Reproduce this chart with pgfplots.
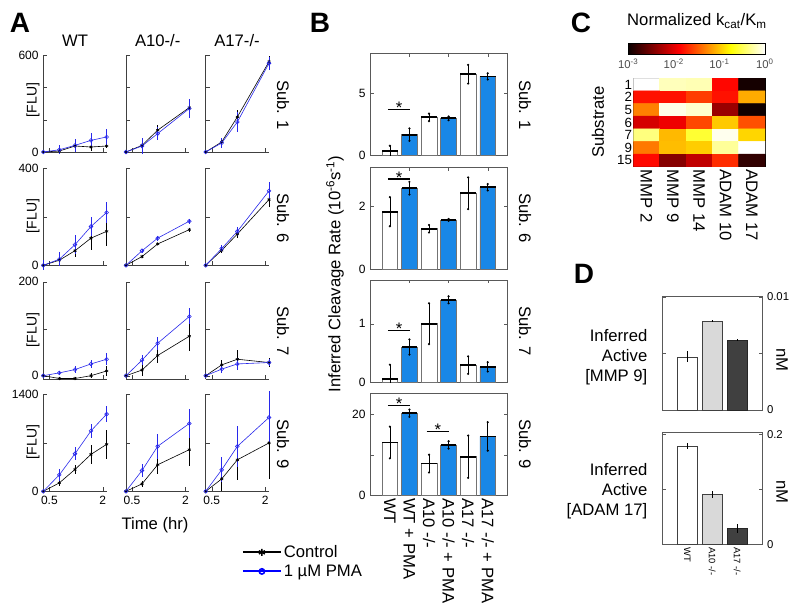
\documentclass[border=0pt]{standalone}
\usepackage{pgfplots}
\pgfplotsset{compat=1.18}
\usepackage{fontspec}
\setmainfont{Liberation Sans}
\definecolor{blueA}{RGB}{40,40,235}
\definecolor{blueB}{RGB}{25,135,230}
\newcommand{\fA}{\fontsize{12.5}{15}\selectfont}
\newcommand{\fT}{\fontsize{9}{10}\selectfont}
\newcommand{\fL}{\fontsize{21}{24}\selectfont\bfseries}
\pgfplotsset{
  /pgf/number format/assume math mode=true,
  Aax/.style={scale only axis, width=47.5pt, height=72.75pt, anchor=north west,
    axis lines=left, axis line style={black!75,-}, tick style={black!75}, tick align=inside,
    major tick length=3pt, xmin=0.33, xmax=2.11, xtick={0.5,2}, xticklabels={},
    ticklabel style={font=\fT}, clip=false, yticklabels={}},
  ctrl/.style={black, line width=0.45pt, mark=asterisk, mark size=1.3pt, mark options={solid},
    error bars/.cd, y dir=both, y explicit, error mark=none},
  pma/.style={blueA, line width=0.45pt, mark=o, mark size=1.4pt, mark options={solid},
    error bars/.cd, y dir=both, y explicit, error mark=none},
  Bax/.style={scale only axis, width=102.75pt, height=76.5pt, anchor=north west,
    xmin=0, xmax=7, ymin=0, axis line style={black!65}, tick style={black!65}, tick align=inside,
    major tick length=2.5pt, xtick={2,4,6}, xticklabels={}, ticklabel style={font=\fT}},
  wbar/.style={ybar, bar shift=0pt, bar width=0.8, fill=white, draw=black!55},
  bbar/.style={ybar, bar shift=0pt, bar width=0.8, fill=blueB, draw=black!55},
  nomark/.style={only marks, mark size=0pt, mark options={draw=none, fill=none}},
  meanl/.style={nomark, error bars/.cd, x dir=both, x fixed=0.4, error mark=none,
    error bar style={draw=black, solid, line width=1.3pt}},
  whisk/.style={nomark, error bars/.cd, y dir=both, y explicit, error mark=*,
    error mark options={mark size=0.6pt, draw=black, fill=black}, error bar style={draw=black, solid, line width=0.5pt}},
  dwhisk/.style={nomark, error bars/.cd, y dir=both, y explicit, error mark=none,
    error bar style={draw=black, solid, line width=0.5pt}},
  sig/.style={black, line width=0.8pt, mark=none},
  Dax/.style={scale only axis, width=75pt, anchor=north west, xmin=0, xmax=4, ymin=0,
    axis line style={black!65}, tick style={black!65}, tick align=inside, major tick length=2.5pt,
    xtick=\empty, yticklabel pos=right, scaled y ticks=false, ticklabel style={font=\fontsize{8.5}{10}\selectfont}},
}
\begin{document}
\begin{tikzpicture}[x=0.75pt,y=-0.75pt]
\path[use as bounding box] (0,0) rectangle (800,614);
% ================= Panel A =================
% Row 1 (Sub. 1)
\begin{axis}[Aax, at={(32.475pt,-41.25pt)}, ymin=0, ymax=600, ytick={0,200,400,600}, yticklabels={0,,,600}]
\addplot[ctrl] coordinates {(0.33,0)+-(0,0) (0.78,6)+-(0,10) (1.22,37)+-(0,34) (1.67,31)+-(0,22) (2.11,37)+-(0,10)};
\addplot[pma] coordinates {(0.33,0)+-(0,10) (0.78,14)+-(0,28) (1.22,41)+-(0,41) (1.67,72)+-(0,43) (2.11,93)+-(0,52)};
\end{axis}
\begin{axis}[Aax, at={(94.5pt,-41.25pt)}, ymin=0, ymax=600, ytick={0,200,400,600}]
\addplot[ctrl] coordinates {(0.33,0)+-(0,0) (0.78,41)+-(0,30) (1.22,135)+-(0,30) (2.11,275)+-(0,45)};
\addplot[pma] coordinates {(0.33,0)+-(0,0) (0.78,37)+-(0,50) (1.22,114)+-(0,40) (2.11,269)+-(0,57)};
\end{axis}
\begin{axis}[Aax, at={(154.275pt,-41.25pt)}, ymin=0, ymax=600, ytick={0,200,400,600}]
\addplot[ctrl] coordinates {(0.33,0)+-(0,0) (0.78,62)+-(0,20) (1.22,217)+-(0,40) (2.11,559)+-(0,35)};
\addplot[pma] coordinates {(0.33,0)+-(0,0) (0.78,56)+-(0,31) (1.22,186)+-(0,62) (2.11,549)+-(0,40)};
\end{axis}
% Row 2 (Sub. 6)
\begin{axis}[Aax, at={(32.475pt,-126.225pt)}, ymin=0, ymax=400, ytick={0,200,400}, yticklabels={0,,400}]
\addplot[ctrl] coordinates {(0.33,0)+-(0,0) (0.78,21)+-(0,15) (1.22,60)+-(0,25) (1.67,112)+-(0,48) (2.11,140)+-(0,60)};
\addplot[pma] coordinates {(0.33,0)+-(0,20) (0.78,25)+-(0,28) (1.22,85)+-(0,38) (1.67,160)+-(0,40) (2.11,218)+-(0,44)};
\end{axis}
\begin{axis}[Aax, at={(94.5pt,-126.225pt)}, ymin=0, ymax=400, ytick={0,200,400}]
\addplot[ctrl] coordinates {(0.33,0)+-(0,0) (0.78,36)+-(0,5) (1.22,88)+-(0,6) (2.11,147)+-(0,8)};
\addplot[pma] coordinates {(0.33,0)+-(0,0) (0.78,60)+-(0,8) (1.22,112)+-(0,10) (2.11,182)+-(0,10)};
\end{axis}
\begin{axis}[Aax, at={(154.275pt,-126.225pt)}, ymin=0, ymax=400, ytick={0,200,400}]
\addplot[ctrl] coordinates {(0.33,0)+-(0,0) (0.78,62)+-(0,10) (1.22,129)+-(0,15) (2.11,271)+-(0,30)};
\addplot[pma] coordinates {(0.33,0)+-(0,0) (0.78,69)+-(0,15) (1.22,140)+-(0,20) (2.11,307)+-(0,38)};
\end{axis}
% Row 3 (Sub. 7)
\begin{axis}[Aax, at={(32.475pt,-211.275pt)}, height=73.2pt, ymin=-7.7, ymax=200, ytick={0,100,200}, yticklabels={0,,200}]
\addplot[ctrl] coordinates {(0.33,0)+-(0,0) (0.78,-6)+-(0,4) (1.22,-6)+-(0,4) (1.67,0)+-(0,5) (2.11,10)+-(0,10)};
\addplot[pma] coordinates {(0.33,0)+-(0,0) (0.78,6)+-(0,5) (1.22,13)+-(0,8) (1.67,25)+-(0,9) (2.11,35)+-(0,13)};
\end{axis}
\begin{axis}[Aax, at={(94.5pt,-211.275pt)}, height=73.2pt, ymin=-7.7, ymax=200, ytick={0,100,200}]
\addplot[ctrl] coordinates {(0.33,0)+-(0,0) (0.78,12)+-(0,12) (1.22,43)+-(0,15) (2.11,84)+-(0,31)};
\addplot[pma] coordinates {(0.33,0)+-(0,0) (0.78,33)+-(0,11) (1.22,69)+-(0,14) (2.11,126)+-(0,17)};
\end{axis}
\begin{axis}[Aax, at={(154.275pt,-211.275pt)}, height=73.2pt, ymin=-7.7, ymax=200, ytick={0,100,200}]
\addplot[ctrl] coordinates {(0.33,0)+-(0,0) (0.78,23)+-(0,11) (1.22,35)+-(0,20) (2.11,28)+-(0,10)};
\addplot[pma] coordinates {(0.33,0)+-(0,0) (0.78,14)+-(0,8) (1.22,25)+-(0,12) (2.11,28)+-(0,8)};
\end{axis}
% Row 4 (Sub. 9)
\begin{axis}[Aax, at={(32.475pt,-295.725pt)}, ymin=0, ymax=1400, ytick={0,700,1400}, yticklabels={0,,1400}, xticklabels={0.5,2}]
\addplot[ctrl] coordinates {(0.33,0)+-(0,0) (0.78,121)+-(0,40) (1.22,315)+-(0,60) (1.67,533)+-(0,133) (2.11,678)+-(0,206)};
\addplot[pma] coordinates {(0.33,0)+-(0,0) (0.78,237)+-(0,90) (1.22,542)+-(0,92) (1.67,872)+-(0,97) (2.11,1114)+-(0,116)};
\end{axis}
\begin{axis}[Aax, at={(94.5pt,-295.725pt)}, ymin=0, ymax=1400, ytick={0,700,1400}, xticklabels={0.5,2}]
\addplot[ctrl] coordinates {(0.33,0)+-(0,0) (0.78,107)+-(0,40) (1.22,383)+-(0,130) (2.11,601)+-(0,230)};
\addplot[pma] coordinates {(0.33,0)+-(0,0) (0.78,300)+-(0,97) (1.22,649)+-(0,177) (2.11,979)+-(0,213)};
\end{axis}
\begin{axis}[Aax, at={(154.275pt,-295.725pt)}, ymin=0, ymax=1400, ytick={0,700,1400}, xticklabels={0.5,2}]
\addplot[ctrl] coordinates {(0.33,0)+-(0,0) (0.78,179)+-(0,180) (1.22,455)+-(0,290) (2.11,698)+-(0,520)};
\addplot[pma] coordinates {(0.33,0)+-(0,0) (0.78,310)+-(0,180) (1.22,649)+-(0,300) (2.11,1066)+-(0,375)};
\end{axis}
% legend
\begin{axis}[at={(181.275pt,-407.25pt)}, anchor=north west, hide axis, scale only axis, width=10pt, height=10pt,
  xmin=0, xmax=1, ymin=0, ymax=1,
  legend style={at={(0,1)}, anchor=north west, draw=none, fill=none, font=\fA, inner sep=0pt, row sep=1pt,
    nodes={inner sep=1.5pt}},
  legend cell align=left,
  legend image code/.code={\draw[mark repeat=2, mark phase=2, #1] plot coordinates {(0pt,0pt) (14.25pt,0pt) (28.5pt,0pt)};}]
\addlegendimage{black, line width=1.4pt, mark=asterisk, mark size=2.6pt, mark options={line width=1pt}}
\addlegendentry{Control}
\addlegendimage{blue, line width=1.4pt, mark=o, mark size=2pt, mark options={line width=1.2pt}}
\addlegendentry{1 µM PMA}
\end{axis}
% Panel A texts
\node[font=\fL] at (20,23) {A};
\node[font=\fA] at (75,41) {WT};
\node[font=\fA] at (157.7,41) {A10-/-};
\node[font=\fA] at (237,41) {A17-/-};
\node[font=\fontsize{10.5}{12}\selectfont, rotate=90] at (33,100) {[FLU]};
\node[font=\fontsize{10.5}{12}\selectfont, rotate=90] at (33,216) {[FLU]};
\node[font=\fontsize{10.5}{12}\selectfont, rotate=90] at (33,330) {[FLU]};
\node[font=\fontsize{10.5}{12}\selectfont, rotate=90] at (33,442) {[FLU]};
\node[font=\fA, rotate=-90] at (283,105) {Sub. 1};
\node[font=\fA, rotate=-90] at (283,218) {Sub. 6};
\node[font=\fA, rotate=-90] at (283,331) {Sub. 7};
\node[font=\fA, rotate=-90] at (283,444) {Sub. 9};
\node[font=\fA] at (155,525.5) {Time (hr)};
% ================= Panel B =================
\begin{axis}[Bax, at={(277.725pt,-39.975pt)}, ymax=8.2, ytick={0,5}]
\addplot[wbar] coordinates {(1,0.32) (3,3.05) (5,6.52)};
\addplot[bbar] coordinates {(2,1.66) (4,2.97) (6,6.34)};
\addplot[meanl] coordinates {(1,0.32) (2,1.66) (3,3.05) (4,2.97) (5,6.52) (6,6.34)};
\addplot[whisk] coordinates {(1,0.32)+-(0,0.45) (2,1.66)+-(0,0.5) (3,3.05)+-(0,0.3) (4,2.97)+-(0,0.15) (5,6.52)+-(0,0.75) (6,6.34)+-(0,0.25)};
\addplot[sig] coordinates {(0.9,3.66) (2.05,3.66)};
\node[font=\fA, anchor=base, yshift=-3pt] at (axis cs:1.47,3.66) {*};
\end{axis}
\begin{axis}[Bax, at={(277.725pt,-125.475pt)}, ymax=3.22, ytick={0,2}]
\addplot[wbar] coordinates {(1,1.82) (3,1.28) (5,2.4)};
\addplot[bbar] coordinates {(2,2.56) (4,1.56) (6,2.59)};
\addplot[meanl] coordinates {(1,1.82) (2,2.56) (3,1.28) (4,1.56) (5,2.4) (6,2.59)};
\addplot[whisk] coordinates {(1,1.82)+-(0,0.46) (2,2.56)+-(0,0.2) (3,1.28)+-(0,0.12) (4,1.56)+-(0,0.03) (5,2.4)+-(0,0.5) (6,2.59)+-(0,0.1)};
\addplot[sig] coordinates {(0.9,2.85) (2.05,2.85)};
\node[font=\fA, anchor=base, yshift=-3pt] at (axis cs:1.47,2.85) {*};
\end{axis}
\begin{axis}[Bax, at={(277.725pt,-210pt)}, ymax=1.75, ytick={0,1}]
\addplot[wbar] coordinates {(1,0.057) (3,1.0) (5,0.29)};
\addplot[bbar] coordinates {(2,0.6) (4,1.41) (6,0.26)};
\addplot[meanl] coordinates {(1,0.057) (2,0.6) (3,1.0) (4,1.41) (5,0.29) (6,0.26)};
\addplot[whisk] coordinates {(1,0.057)+-(0,0.24) (2,0.6)+-(0,0.13) (3,1.0)+-(0,0.35) (4,1.41)+-(0,0.06) (5,0.29)+-(0,0.15) (6,0.26)+-(0,0.08)};
\addplot[sig] coordinates {(0.9,0.88) (2.05,0.88)};
\node[font=\fA, anchor=base, yshift=-3pt] at (axis cs:1.47,0.88) {*};
\end{axis}
\begin{axis}[Bax, at={(277.725pt,-294.975pt)}, ymax=25.1, ytick={0,10,20}, yticklabels={0,,20},
  xtick={1,2,3,4,5,6}, xtick style={draw=none},
  xticklabels={WT, WT + PMA, A10 -/-, A10 -/- + PMA, A17 -/-, A17 -/- + PMA},
  xticklabel style={rotate=-90, anchor=west, font=\fA, inner sep=2pt}]
\addplot[wbar] coordinates {(1,13.0) (3,7.8) (5,9.5)};
\addplot[bbar] coordinates {(2,20.2) (4,12.4) (6,14.5)};
\addplot[meanl] coordinates {(1,13.0) (2,20.2) (3,7.8) (4,12.4) (5,9.5) (6,14.5)};
\addplot[whisk] coordinates {(1,13.0)+-(0,3.9) (2,20.2)+-(0,0.9) (3,7.8)+-(0,2.2) (4,12.4)+-(0,0.9) (5,9.5)+-(0,5.2) (6,14.5)+-(0,3.5)};
\addplot[sig] coordinates {(0.9,22.2) (2.05,22.2)};
\node[font=\fA, anchor=base, yshift=-3pt] at (axis cs:1.47,22.2) {*};
\addplot[sig] coordinates {(2.88,15.6) (4.02,15.6)};
\node[font=\fA, anchor=base, yshift=-3pt] at (axis cs:3.45,15.6) {*};
\end{axis}
\node[font=\fL] at (320,23) {B};
\node[font=\fA, rotate=90] at (335,274) {Inferred Cleavage Rate (10\textsuperscript{-6}s\textsuperscript{-1})};
\node[font=\fA, rotate=-90] at (525,105) {Sub. 1};
\node[font=\fA, rotate=-90] at (525,218) {Sub. 6};
\node[font=\fA, rotate=-90] at (525,331) {Sub. 7};
\node[font=\fA, rotate=-90] at (525,444) {Sub. 9};
% ================= Panel C =================
\begin{axis}[scale only axis, width=98.8pt, height=66.3pt, at={(474.975pt,-58.725pt)}, anchor=north west,
  xmin=-0.5, xmax=4.5, ymin=-0.5, ymax=6.5, y dir=reverse,
  colormap={mhot}{rgb(0cm)=(0.04,0,0); rgb(3cm)=(1,0,0); rgb(6cm)=(1,1,0); rgb(8cm)=(1,1,1)},
  point meta min=-3, point meta max=0,
  xtick={0,1,2,3,4}, xticklabels={MMP 2, MMP 9, MMP 14, ADAM 10, ADAM 17},
  xticklabel style={rotate=-90, anchor=west, font=\fA, inner sep=2pt},
  ytick={0,1,2,3,4,5,6}, yticklabels={1,2,5,6,7,9,15},
  yticklabel style={font=\fontsize{10}{10}\selectfont, inner sep=0.8pt},
  major tick length=0pt, axis line style={black},
  colorbar horizontal,
  colorbar style={scale only axis, at={(parent axis.north west)}, anchor=south west, xshift=-3.75pt, yshift=26.25pt,
    width=102.5pt, height=8.7pt, xtick={-3,-2,-1,0},
    xticklabels={10\textsuperscript{-3}, 10\textsuperscript{-2}, 10\textsuperscript{-1}, 10\textsuperscript{0}},
    xticklabel style={font=\fontsize{8.5}{10}\selectfont, text=black!70}, major tick length=0pt, axis line style={black}}]
\addplot[matrix plot*, mesh/cols=5, point meta=explicit] table[meta=c] {
x y c
0 0 0
1 0 -0.2
2 0 -0.22
3 0 -1.85
4 0 -2.95
0 1 -1.8
1 1 -1.8
2 1 -1.61
3 1 -1.8
4 1 -1.12
0 2 -1.31
1 2 -0.07
2 2 -0.15
3 2 -2.34
4 2 -2.98
0 3 -2.07
1 3 -1.95
2 3 -1.56
3 3 -0.99
4 3 -1.52
0 4 -0.38
1 4 -1.06
2 4 -0.6
3 4 -0.05
4 4 -0.93
0 5 -1.34
1 5 -1.04
2 5 -0.97
3 5 -0.3
4 5 0
0 6 -1.84
1 6 -2.43
2 6 -2.16
3 6 -1.68
4 6 -2.82
};
\end{axis}
\node[font=\fL] at (581,22.5) {C};
\node[font=\fA] at (697,21) {Normalized k\textsubscript{cat}/K\textsubscript{m}};
\node[font=\fA, rotate=90] at (598,122) {Substrate};
% ================= Panel D =================
\begin{axis}[Dax, at={(496.725pt,-222.525pt)}, height=85pt, ymax=0.01, ytick={0,0.005,0.01}, yticklabels={0,,0.01}]
\addplot[ybar, bar shift=0pt, bar width=0.8, fill=white, draw=black!75] coordinates {(1,0.0047)};
\addplot[ybar, bar shift=0pt, bar width=0.8, fill=black!15, draw=black!75] coordinates {(2,0.00785)};
\addplot[ybar, bar shift=0pt, bar width=0.8, fill=black!75, draw=black!85] coordinates {(3,0.0062)};
\addplot[dwhisk] coordinates {(1,0.0047)+-(0,0.0005) (2,0.00785)+-(0,0.0001) (3,0.0062)+-(0,0.0001)};
\end{axis}
\begin{axis}[Dax, at={(496.725pt,-324.525pt)}, height=83.7pt, ymax=0.203, ytick={0,0.1,0.2}, yticklabels={0,,0.2},
  xtick={1,2,3}, xticklabels={WT, A10 -/-, A17 -/-}, xtick style={draw=none},
  xticklabel style={rotate=-90, anchor=west, font=\fontsize{7}{8}\selectfont, inner sep=2pt}]
\addplot[ybar, bar shift=0pt, bar width=0.8, fill=white, draw=black!75] coordinates {(1,0.179)};
\addplot[ybar, bar shift=0pt, bar width=0.8, fill=black!15, draw=black!75] coordinates {(2,0.091)};
\addplot[ybar, bar shift=0pt, bar width=0.8, fill=black!75, draw=black!85] coordinates {(3,0.029)};
\addplot[dwhisk] coordinates {(1,0.179)+-(0,0.006) (2,0.091)+-(0,0.006) (3,0.029)+-(0,0.008)};
\end{axis}
\node[font=\fL] at (584,274) {D};
\node[font=\fA, anchor=east, align=right] at (652,356.7) {Inferred\\Active\\{}[MMP 9]};
\node[font=\fA, anchor=east, align=right] at (652,491.5) {Inferred\\Active\\{}[ADAM 17]};
\node[font=\fA, rotate=-90] at (782,360) {nM};
\node[font=\fA, rotate=-90] at (782,492) {nM};
\end{tikzpicture}
\end{document}
